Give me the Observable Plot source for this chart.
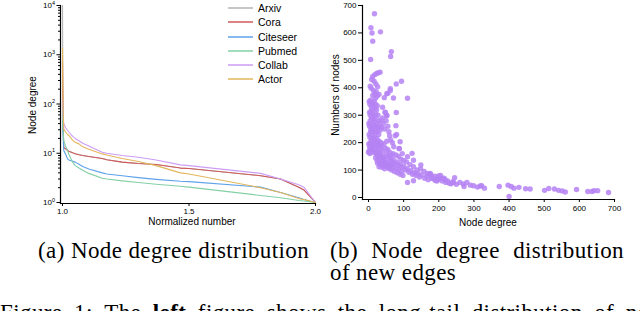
<!DOCTYPE html>
<html><head><meta charset="utf-8">
<script src="https://cdn.jsdelivr.net/npm/d3@7"></script>
<script src="https://cdn.jsdelivr.net/npm/@observablehq/plot@0.6"></script>
<style>
body{margin:0;background:#fff;}
#fig{position:relative;width:640px;height:311px;overflow:hidden;background:#fff;font-family:"Liberation Sans",Arial,sans-serif;color:#000;}
.abs{position:absolute;white-space:nowrap;}
.lab{font-size:10px;line-height:10px;}
.cap{font-family:"Liberation Serif","Times New Roman",serif;font-size:23px;line-height:21px;letter-spacing:0.4px;color:#000;}
.leg{font-size:10.5px;line-height:12px;display:flex;align-items:center;}
</style></head><body><div id="fig"></div>
<script>
// ---------- Left panel data: node degree distribution (log scale) ----------
const seriesNames = ["Arxiv", "Cora", "Citeseer", "Pubmed", "Collab", "Actor"];
const seriesColors = ["#b4b4b4", "#d05a5a", "#5ea2ea", "#84d0a6", "#cc9cf6", "#e2b65a"];
const normX = [1.0, 1.002, 1.005, 1.012, 1.02, 1.025, 1.04, 1.05, 1.065, 1.08, 1.104, 1.157, 1.175, 1.236, 1.30, 1.37, 1.466, 1.5, 1.783, 1.862, 1.934, 1.954, 2.0];
const arxivY    = [10000, 60, 13, 12.3, 11.5, 11, 10.2, 9.8, 9.3, 9.0, 8.6, 7.8, 7.4, 6.6, 6.2, 5.9, 5.0, 4.9, 3.5, 3.0, 2.05, 1.8, 1.0];
const coraY     = [700, 40, 13, 12.3, 11.5, 11, 10.2, 9.8, 9.3, 9.0, 8.6, 7.8, 7.4, 6.6, 6.2, 5.9, 5.0, 4.9, 3.5, 3.0, 2.05, 1.8, 1.0];
const citeseerY = [90, 25, 11.4, 9.5, 7.7, 7.3, 6.9, 6.6, 6.0, 5.4, 4.8, 4.0, 3.8, 3.5, 3.2, 2.95, 2.7, 2.65, 2.05, 1.6, 1.25, 1.15, 1.0];
const pubmedY   = [100, 30, 18, 14, 11.4, 9.5, 6.6, 5.6, 5.0, 4.5, 3.9, 3.1, 3.0, 2.75, 2.55, 2.35, 2.14, 2.05, 1.39, 1.25, 1.1, 1.07, 1.0];
const collabY   = [120, 60, 40, 33, 29, 27, 22, 20, 18, 16, 14, 10.5, 10.0, 9.0, 8.3, 7.3, 5.8, 5.6, 3.9, 3.0, 2.3, 2.05, 1.0];
const actorY    = [1350, 80, 31, 27, 24, 23, 18.5, 16.7, 15.5, 13.5, 12, 9.7, 9.2, 7.8, 6.8, 5.6, 4.0, 3.8, 2.0, 1.6, 1.2, 1.15, 1.0];
const seriesValues = [arxivY, coraY, citeseerY, pubmedY, collabY, actorY];
const leftXTicks = [1.0, 1.5, 2.0];
const leftYTicks = [1, 10, 100, 1000, 10000];
const leftYMinor = [2,3,4,5,6,7,8,9,20,30,40,50,60,70,80,90,200,300,400,500,600,700,800,900,2000,3000,4000,5000,6000,7000,8000,9000];

// ---------- Right panel data: node degree of new edges (scatter) ----------
const pointsHead = [[17,670],[7,619],[10,600],[12,570],[34,604],[6,503],[65,532],[63,514],[33,457],[28,455],[23,452],[18,448],[12,441],[9,430],[16,424],[94,424],[79,414],[62,397],[21,414],[26,404],[5,406],[8,398],[14,390],[22,386],[18,379],[25,370],[30,376],[55,380],[45,364],[71,363],[111,362],[20,362],[12,372],[52,378],[62,390],[40,329],[47,311],[52,298]];
const pointsBody = [[2,350],[4,340],[6,355],[8,330],[10,345],[12,320],[14,335],[16,350],[18,325],[20,340],[3,310],[5,300],[7,315],[9,290],[11,305],[13,285],[15,298],[17,275],[19,290],[21,305],[23,320],[25,335],[27,300],[29,280],
[1,270],[3,260],[5,280],[7,250],[9,265],[11,245],[13,255],[15,240],[17,260],[19,235],[21,250],[23,270],[25,240],[27,255],[29,230],[31,262],[33,245],[35,280],[37,255],[40,290],[42,270],
[2,230],[4,220],[6,240],[8,210],[10,225],[12,200],[14,215],[16,195],[18,220],[20,205],[22,190],[24,215],[26,200],[28,185],[30,205],[32,190],[34,175],[36,200],[38,185],[40,170],[44,195],[48,180],[52,205],
[1,195],[3,185],[5,200],[7,175],[9,190],[11,180],[13,170],[15,185],[17,165],[19,175],[21,160],[23,170],[25,155],[27,165],[29,150],[31,160],[33,145],[35,155],[37,140],[39,150],[41,135],[43,145],[45,130],[47,140],
[0,165],[2,170],[4,160],[6,175],[8,165],[20,145],[24,135],[28,140],[32,128],[36,135],[40,122],[44,128],[48,115],[52,122],[56,130],[60,105],[64,115],[68,125],
[26,125],[30,112],[34,120],[38,110],[42,118],[46,105],[50,125],[54,115],[58,108],[62,120],[66,100],[70,112],[74,95],[78,108],[82,90],[86,102],[90,85],[94,96],[98,80],
[50,160],[55,150],[60,145],[65,135],[70,140],[75,125],[80,130],[85,118],[90,122],[95,110],[100,115],[105,100],[110,105],[115,92],[120,98],[125,85],[130,90],[135,80],[140,88],[145,75],[150,82],
[55,175],[60,165],[65,155],[70,160],[78,155],[85,150],[92,140],[100,135],[108,130],[118,120],[128,112],[138,100],[148,105],[158,95],[168,88],[178,80],[188,78],[198,72],[208,70],[218,65],
[50,280],[52,300],[48,310],[55,260],[58,240],[46,250],[60,225],[63,210],[68,200],[72,185],[76,225],[80,230],[78,262],[79,310],[87,179],[90,203],[111,149],[124,161],[128,136],[111,55],[128,61],[149,119],[96,160],[88,178],
[160,70],[170,65],[180,70],[190,62],[200,66],[210,60],[220,55],[230,52],[240,58],[250,48],[260,55],[165,78],[175,85],[185,68],[195,60],[205,80],[215,70],[225,60],[235,50],[245,72]];
const pointsTail = [[176,88],[199,79],[242,55],[270,49],[280,55],[299,43],[322,43],[330,34],[272,40],[290,45],[310,38],[318,42],[372,40],[397,45],[400,4],[406,40],[414,34],[428,37],[447,32],[460,31],[501,26],[513,33],[529,31],[541,26],[551,24],[560,20],[592,29],[624,22],[636,22],[642,25],[652,25],[683,18]];
const rightXTicks = [0, 100, 200, 300, 400, 500, 600, 700];
const rightYTicks = [0, 100, 200, 300, 400, 500, 600, 700];

// ---------- Build ----------
const fig = document.getElementById("fig");

const lineRows = [];
seriesNames.forEach((name, i) => normX.forEach((x, j) => lineRows.push({series: name, x, y: seriesValues[i][j]})));

const left = Plot.plot({
  width: 320, height: 232,
  marginLeft: 60, marginRight: 5, marginTop: 5, marginBottom: 29,
  style: {background: "transparent", overflow: "visible", fontFamily: "Liberation Sans, Arial, sans-serif", fontSize: "8px", color: "#000"},
  x: {domain: [1, 2], insetLeft: 2},
  y: {type: "log", domain: [1, 10000], insetBottom: 1},
  marks: [
    ...seriesNames.map((name, i) => Plot.line(lineRows.filter(d => d.series === name), {x: "x", y: "y", stroke: seriesColors[i], strokeWidth: 1.1})),
    Plot.axisX({ticks: leftXTicks, tickFormat: d3.format(".1f"), tickSize: 3, tickPadding: 2, label: null}),
    Plot.axisY({ticks: leftYTicks, tickFormat: d => "10^" + Math.round(Math.log10(d)), tickSize: 3.5, tickPadding: 2, label: null}),
    Plot.axisY({ticks: leftYMinor, tickFormat: () => "", tickSize: 2, label: null}),
    Plot.frame({anchor: "left", strokeWidth: 1.2}),
    Plot.frame({anchor: "bottom", strokeWidth: 1.2})
  ]
});
left.style.position = "absolute"; left.style.left = "0px"; left.style.top = "0px";
left.querySelectorAll("text").forEach(t => {
  const s = t.textContent;
  if (s.startsWith("10^")) {
    const e = s.slice(3);
    t.textContent = "10";
    const ts = document.createElementNS("http://www.w3.org/2000/svg", "tspan");
    ts.setAttribute("dy", "-3.5"); ts.setAttribute("font-size", "5.5");
    ts.textContent = e;
    t.appendChild(ts);
  }
});
fig.appendChild(left);

const points = [...pointsHead, ...pointsBody, ...pointsTail].map(([d, n]) => ({d, n}));
const right = Plot.plot({
  width: 320, height: 232,
  marginLeft: 42, marginRight: 26, marginTop: 5, marginBottom: 33,
  style: {background: "transparent", overflow: "visible", fontFamily: "Liberation Sans, Arial, sans-serif", fontSize: "8px", color: "#000"},
  x: {domain: [0, 700], insetLeft: 6},
  y: {domain: [0, 700], insetBottom: 2},
  marks: [
    Plot.dot(points, {x: "d", y: "n", r: 2.7, fill: "#b582f3", fillOpacity: 0.85, stroke: "none"}),
    Plot.axisX({ticks: rightXTicks, tickSize: 3, tickPadding: 3, label: null}),
    Plot.axisY({ticks: rightYTicks, tickSize: 4, tickPadding: 2, label: null}),
    Plot.frame({anchor: "left", strokeWidth: 1.2}),
    Plot.frame({anchor: "bottom", strokeWidth: 1.2})
  ]
});
right.style.position = "absolute"; right.style.left = "320px"; right.style.top = "0px";
fig.appendChild(right);

function addText(txt, cls, x, y, rot) {
  const d = document.createElement("div");
  d.className = "abs " + cls;
  d.textContent = txt;
  d.style.left = x + "px"; d.style.top = y + "px";
  d.style.transform = "translate(-50%,-50%)" + (rot ? " rotate(-90deg)" : "");
  fig.appendChild(d);
}
addText("Node degree", "lab", 33, 105, true);
addText("Normalized number", "lab", 192, 222, false);
addText("Numbers of nodes", "lab", 336, 95, true);
addText("Node degree", "lab", 488, 223, false);

seriesNames.forEach((name, i) => {
  const d = document.createElement("div");
  d.className = "abs leg";
  d.style.left = "228px"; d.style.top = (2.3 + i * 14.1) + "px";
  d.innerHTML = `<svg width="26" height="12" style="margin-right:4px"><line x1="0" x2="25" y1="6" y2="6" stroke="${seriesColors[i]}" stroke-width="1.5"/></svg>${name}`;
  fig.appendChild(d);
});

const capA = document.createElement("div");
capA.className = "abs cap"; capA.style.left = "38px"; capA.style.top = "240px";
capA.textContent = "(a) Node degree distribution";
fig.appendChild(capA);

const capB1 = document.createElement("div");
capB1.className = "abs cap"; capB1.style.left = "330px"; capB1.style.top = "240px"; capB1.style.width = "294px";
capB1.style.display = "flex"; capB1.style.justifyContent = "space-between";
capB1.innerHTML = "<span>(b)</span><span>Node</span><span>degree</span><span>distribution</span>";
fig.appendChild(capB1);
const capB2 = document.createElement("div");
capB2.className = "abs cap"; capB2.style.left = "330px"; capB2.style.top = "262px";
capB2.textContent = "of new edges";
fig.appendChild(capB2);

const capF = document.createElement("div");
capF.className = "abs cap"; capF.style.left = "0px"; capF.style.top = "302px"; capF.style.width = "672px";
capF.style.display = "flex"; capF.style.justifyContent = "space-between";
capF.innerHTML = "<span>Figure</span><span>1:</span><span>The</span><span><b>left</b></span><span>figure</span><span>shows</span><span>the</span><span>long-tail</span><span>distribution</span><span>of</span><span>node</span>";
fig.appendChild(capF);
</script></body></html>
